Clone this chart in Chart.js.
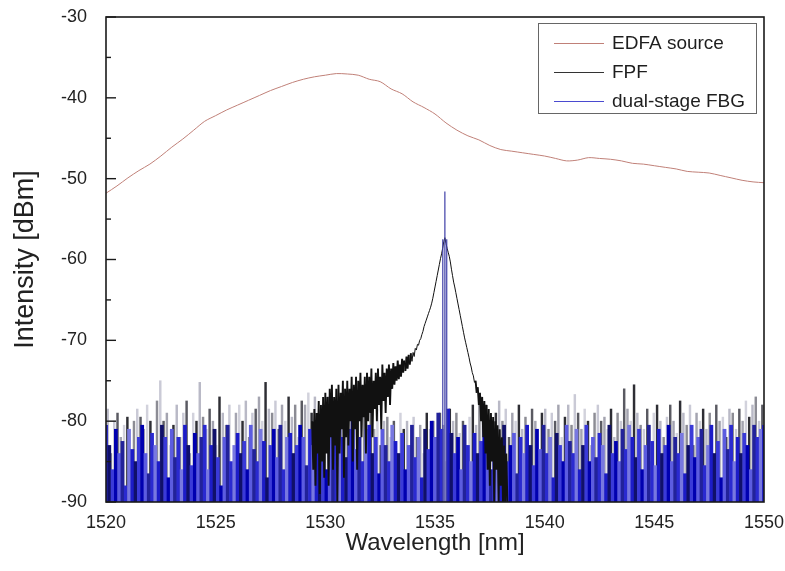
<!DOCTYPE html>
<html>
<head>
<meta charset="utf-8">
<script src="https://cdn.jsdelivr.net/npm/chart.js@4.4.1/dist/chart.umd.min.js"></script>
<style>
html,body{margin:0;padding:0;background:#fff;}
canvas{display:block;}
</style>
</head>
<body>
<canvas id="c" width="785" height="571"></canvas>
<script>
// ---------- DATA ----------
const xTicks = [1520, 1525, 1530, 1535, 1540, 1545, 1550];
const yTicks = [-90, -80, -70, -60, -50, -40, -30];
const seriesLabels = ['EDFA source', 'FPF', 'dual-stage FBG'];

// EDFA source, wavelength grid 1520..1550 step 0.5 nm
const edfaStart = 1520, edfaStep = 0.5;
const edfaDb = [
 -51.8,-50.9,-49.9,-49.0,-48.2,-47.2,-46.1,-45.1,-44.0,-42.9,
 -42.2,-41.5,-40.9,-40.3,-39.7,-39.1,-38.6,-38.1,-37.7,-37.4,
 -37.2,-37.0,-37.05,-37.2,-37.7,-38.0,-38.9,-39.5,-40.5,-41.2,
 -42.0,-43.1,-44.0,-44.7,-45.2,-45.9,-46.4,-46.6,-46.8,-47.0,
 -47.2,-47.5,-47.8,-47.7,-47.4,-47.5,-47.6,-47.8,-48.1,-48.2,
 -48.4,-48.6,-48.8,-49.1,-49.2,-49.3,-49.6,-49.9,-50.2,-50.4,
 -50.5
];

// FPF transmission around the peak, grid 1529.40..1538.30 step 0.05 nm
const fpfStart = 1529.40, fpfStep = 0.05;
const fpfDb = [
 -80,-86,-78.5,-88,-79,-84,-77.5,-89,-78,-85,-77,-87,
 -76.5,-84,-77,-88,-76,-82,-75.5,-86,-77,-83,-76,-90,-75.5,-84,-76.5,-81,-75,-87,-76,-82,
 -75,-83,-76,-80,-74.5,-85,-75.5,-81,-74.5,-86,-75,-80,-74,-82,-75.5,-79.5,-74.5,-84,-74,-80,
 -74.5,-79,-73.5,-82,-75,-78.5,-74,-80,-73.5,-78,-74.5,-81,-73,-77.5,-74,-79,-73.5,-77,-73,-78,
 -73.5,-76,-72.8,-75.5,-73.2,-75,-72.5,-74.8,-73,-74.5,-72.3,-74,-72.5,-73.8,-72,-73.5,-71.8,-73,-71.6,-72.6,
 -71.5,-72,-71,-71.2,-70.5,-70.6,-70,-69.8,-69.3,-68.9,
 -68.3,-67.9,-67.5,-67.1,-66.7,-66.3,-65.9,-65.4,-64.8,-64.1,
 -63.4,-62.7,-62.0,-61.3,-60.6,-59.9,-59.3,-58.6,-57.8,-57.3,
 -58.0,-58.6,-59.1,-59.6,-60.3,-61.2,-62.0,-62.8,-63.4,-64.1,
 -64.8,-65.5,-66.2,-66.9,-67.6,-68.3,-69.0,-69.7,-70.3,-70.9,
 -71.5,-72.1,-72.8,-73.3,-74.0,-74.4,-75.2,-75.0,-76.5,-75.8,
 -78,-76.5,-80,-77,-82,-77.5,-84,-78,-86,-78.5,
 -88,-79,-85,-79.5,-90,-80,-86,-80.5,-90,-81,
 -88,-82,-90,-83,-90,-84,-90
];

// FPF noise floor spike heights, grid 1520.075 step 0.15 nm
const fpfNoiseStart = 1520.075, noiseStep = 0.15;
const fpfNoiseDb = [
 -78.5,-84,-80,-79,-82,-80.5,-79.5,-86,-80,-78.5,
 -79.5,-81,-78,-80,-85,-77.5,-75,-80,-79,-83,
 -80.5,-78,-82,-79,-77.5,-84,-79,-80,-75.2,-79.5,
 -81,-78.5,-80,-83,-77,-79,-80.5,-78,-86,-79,
 -78,-80,-77.5,-82,-79,-78.5,-77,-80,-75.2,-78.5,
 -79,-77.5,-81,-78,-80,-77,-79.5,-78,-82,-77.5,
 -78,-76.5,-79,-77,-80,-78,-79.5,-77,-81,-78,
 -77.5,-80,-76,-79,-78.5,-81,-77,-80,-78,-82,
 -79,-81,-78.5,-83,-80,-79.5,-82,-80,-84,-79,
 -81,-80,-83,-79.5,-82,-80.5,-84,-79,-81,-80,
 -82,-79,-80.5,-85,-78.5,-80,-79,-81.5,-80,-83,
 -79.5,-78,-80.5,-77.5,-79,-78,-80,-81,-79,-77.5,
 -80,-78.5,-82,-79,-80,-78,-81,-79.5,-84,-78.5,
 -80,-85,-79,-78.5,-81,-79,-80,-78,-82,-79.5,
 -78,-80.5,-76.7,-79,-81,-78.5,-80,-83,-79,-78,
 -80,-79.5,-81,-78.5,-82,-79,-80,-76,-78.5,-80,
 -75.5,-79,-80.5,-81,-78.5,-85,-79,-78,-80,-82,
 -79.5,-78,-80,-81.5,-77.5,-79,-80.5,-78,-83,-79,
 -80,-78.5,-81,-79,-84,-78,-80,-79.5,-82,-78.5,
 -79,-81,-78.5,-80,-77.5,-79.5,-78,-77,-80,-78,
 -76
];

// dual-stage FBG noise floor spike heights, grid 1520.00 step 0.15 nm
const fbgNoiseStart = 1520.0;
const fbgNoiseDb = [
 -80.5,-83,-86,-81,-84,-82.5,-88,-81,-83.5,-85,
 -82,-80.5,-84,-86.5,-81.5,-83,-85,-80.5,-82,-87,
 -81,-84.5,-82,-86,-80.5,-83,-85.5,-81.5,-84,-82,
 -80.5,-86,-83,-81,-84.5,-88,-82,-80.5,-85,-83,
 -81.5,-84,-82.5,-86,-80.5,-83.5,-85,-81,-82.5,-87,
 -83,-81,-84.5,-80.5,-86,-82,-81.5,-84,-83,-80.5,
 -82,-85.5,-81,-83,-80.5,-84,-82.5,-86,-81,-80,
 -83,-80.5,-82,-84.5,-81,-80,-83.5,-82,-85,-81,
 -80.5,-84,-82,-86.5,-81,-83,-85,-80.5,-82.5,-84,
 -81.5,-86,-83,-80.5,-84.5,-82,-87,-81,-83.5,-80,
 -82,-79,-81,-90,-78.5,-81.5,-84,-82,-86,-80.5,
 -83,-85,-81.5,-84,-82.5,-80.5,-83,-86,-81,-84,
 -82.5,-80.5,-85,-83,-81.5,-86.5,-82,-84,-80.5,-83,
 -85.5,-81,-83.5,-80.5,-84,-82,-87,-81.5,-83,-85,
 -80.5,-82.5,-84,-81,-86,-83,-80.5,-85,-82,-84.5,
 -81.5,-83,-86.5,-80.5,-84,-82.5,-85,-81,-83.5,-80.5,
 -82,-84.5,-81,-86,-83,-80.5,-82.5,-85.5,-81,-84,
 -83,-80.5,-85,-82,-84,-81.5,-86.5,-83,-80.5,-84.5,
 -82,-81,-85.5,-83,-80.5,-84,-82.5,-87,-81,-83.5,
 -80.5,-85,-82,-84,-81.5,-83,-86,-80.5,-82,-81,
 -80.5
];

// dual-stage FBG reflection peak
const fbgPeakWl = [1535.34, 1535.35, 1535.36, 1535.44, 1535.45, 1535.46, 1535.52, 1535.53, 1535.54];
const fbgPeakDb = [-95, -57.5, -95, -95, -51.6, -95, -95, -57.5, -95];

// ---------- BUILD ----------
const FLOOR = -90;
const grid = (start, step, arr) => arr.map((v, i) => ({ x: +(start + i * step).toFixed(3), y: v }));
const edfaPts = grid(edfaStart, edfaStep, edfaDb);
const fpfPts = grid(fpfStart, fpfStep, fpfDb);
const fpfNoisePts = fpfNoiseDb.map((v, i) => ({ x: +(fpfNoiseStart + i * noiseStep).toFixed(3), y: [FLOOR, v] }));
const fbgNoisePts = fbgNoiseDb.map((v, i) => ({ x: +(fbgNoiseStart + i * noiseStep).toFixed(3), y: [FLOOR, v] }));
const fbgPeakPts = fbgPeakWl.map((x, i) => ({ x, y: fbgPeakDb[i] }));

const greyPal = ['#b9b9c6', '#8c8c94', '#cacad6', '#5a5a62', '#a4a4b0', '#d2d2dc', '#2e2e34'];
const bluePal = ['#1c1cc8', '#10106a', '#3a3ad8', '#0000b0', '#5c5ce0', '#22229a', '#2a2ad0', '#7878e0'];

const FONT = "'Liberation Sans', Arial, sans-serif";
Chart.defaults.font.family = FONT;
Chart.defaults.color = '#222';

const legendColors = ['#c08078', '#333333', '#4a4ad0'];

const decor = {
  id: 'decor',
  afterDatasetsDraw(chart) {
    const { ctx, chartArea: a, scales: { y } } = chart;
    ctx.save();
    ctx.strokeStyle = '#1a1a1a';
    ctx.lineWidth = 1.6;
    ctx.strokeRect(a.left, a.top, a.right - a.left, a.bottom - a.top);
    // inward y ticks (major + minor)
    ctx.lineWidth = 1.4;
    for (let i = 0; i < yTicks.length; i++) {
      const v = yTicks[i];
      const py = y.getPixelForValue(v);
      ctx.beginPath(); ctx.moveTo(a.left, py); ctx.lineTo(a.left + 10, py); ctx.stroke();
      if (i < yTicks.length - 1) {
        const pm = y.getPixelForValue((v + yTicks[i + 1]) / 2);
        ctx.beginPath(); ctx.moveTo(a.left, pm); ctx.lineTo(a.left + 5, pm); ctx.stroke();
      }
    }
    // legend box
    const bx = Math.round(a.right - 226), by = Math.round(a.top + 6), bw = 218, bh = 90;
    ctx.fillStyle = '#fff';
    ctx.fillRect(bx, by, bw, bh);
    ctx.strokeStyle = '#666';
    ctx.lineWidth = 1;
    ctx.strokeRect(bx + 0.5, by + 0.5, bw, bh);
    ctx.font = '19px ' + FONT;
    ctx.textBaseline = 'middle';
    ctx.textAlign = 'left';
    for (let i = 0; i < seriesLabels.length; i++) {
      const ly = by + 20 + i * 29;
      ctx.strokeStyle = legendColors[i];
      ctx.lineWidth = 1;
      ctx.beginPath(); ctx.moveTo(bx + 16, ly + 0.5); ctx.lineTo(bx + 66, ly + 0.5); ctx.stroke();
      ctx.fillStyle = '#1e1e1e';
      ctx.fillText(seriesLabels[i], bx + 74, ly + 1);
    }
    ctx.restore();
  }
};

new Chart(document.getElementById('c'), {
  type: 'line',
  data: {
    datasets: [
      { label: seriesLabels[0], data: edfaPts, borderColor: '#c08078', borderWidth: 1, pointRadius: 0, tension: 0.3, order: 0 },
      { label: seriesLabels[2], data: fbgPeakPts, borderColor: '#4040a8', borderWidth: 1.2, pointRadius: 0, order: 1 },
      { label: seriesLabels[1], data: fpfPts, borderColor: '#111', borderWidth: 1, pointRadius: 0, order: 2,
        segment: { borderWidth: c => Math.abs(c.p1.parsed.y - c.p0.parsed.y) > 1.4 ? 1.9 : 1 } },
      { type: 'bar', label: '', data: fbgNoisePts, grouped: false, barThickness: 3.1,
        backgroundColor: c => bluePal[c.dataIndex % bluePal.length], borderWidth: 0, order: 3 },
      { type: 'bar', label: '', data: fpfNoisePts, grouped: false, barThickness: 1.8,
        backgroundColor: c => greyPal[c.dataIndex % greyPal.length], borderWidth: 0, order: 4 }
    ]
  },
  options: {
    responsive: false,
    animation: false,
    layout: { padding: { left: 0, right: 21, top: 17, bottom: 0 } },
    scales: {
      x: {
        type: 'linear', min: 1520, max: 1550, offset: false,
        afterBuildTicks: s => { s.ticks = xTicks.map(v => ({ value: v })); },
        ticks: { font: { size: 18 }, color: '#222', padding: 10, maxRotation: 0, autoSkip: false, callback: v => String(v) },
        grid: { display: false, drawTicks: false },
        border: { display: false },
        title: { display: true, text: 'Wavelength [nm]', font: { size: 24 }, color: '#222', padding: { top: 0, bottom: 13 } },
        afterFit: s => { s.height = 69; s.paddingLeft = 0; s.paddingRight = 0; }
      },
      y: {
        type: 'linear', min: -90, max: -30,
        afterBuildTicks: s => { s.ticks = yTicks.map(v => ({ value: v })); },
        ticks: { font: { size: 18 }, color: '#222', padding: 19, callback: v => String(v) },
        grid: { display: false, drawTicks: false },
        border: { display: false },
        title: { display: true, text: 'Intensity [dBm]', font: { size: 27 }, color: '#222', padding: { top: 9, bottom: 0 } },
        afterFit: s => { s.width = 106; s.paddingTop = 0; s.paddingBottom = 0; }
      }
    },
    plugins: { legend: { display: false }, tooltip: { enabled: false } }
  },
  plugins: [decor]
});
</script>
</body>
</html>
